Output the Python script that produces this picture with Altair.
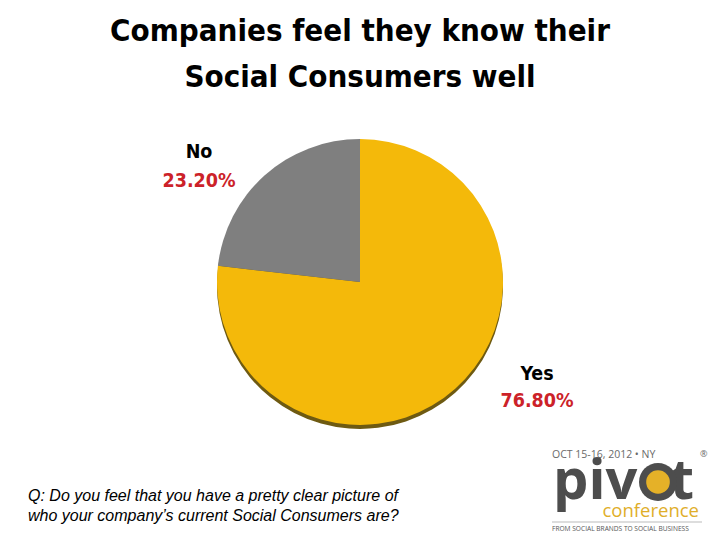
import altair as alt
import pandas as pd

# ---- data ----
categories = ["Yes", "No"]
values = [76.8, 23.2]
title_lines = ["Companies feel they know their", "Social Consumers well"]
question_lines = ["Q: Do you feel that you have a pretty clear picture of",
                  "who your company\u2019s current Social Consumers are?"]

df = pd.DataFrame({"answer": categories, "share": values, "rank": list(range(len(categories)))})

COND = "DejaVu Sans Condensed, Liberation Sans Narrow, sans-serif"
LOGO = "Open Sans, sans-serif"
GOLD = "#F4B90A"
GRAY = "#7F7F7F"
RED = "#CC2229"

W, H = 704, 532
CX, CY = 352, 274
R = 143

base = alt.Chart(df)

theta = alt.Theta("share:Q", stack=True)
order = alt.Order("rank:O")

shadow = base.mark_arc(radius=R, color="#6E5A12").encode(
    theta=theta, order=order, x=alt.value(CX), y=alt.value(CY + 4)
)
pie = base.mark_arc(radius=R).encode(
    theta=theta,
    order=order,
    color=alt.Color("answer:N", scale=alt.Scale(domain=categories, range=[GOLD, GRAY]), legend=None),
    x=alt.value(CX), y=alt.value(CY),
)

labeled = base.transform_calculate(pct="format(datum.share, '.2f') + '%'")


def label_text(cat, field, colour, x, y):
    return labeled.transform_filter(alt.datum.answer == cat).mark_text(
        font=COND, fontWeight="bold", fontSize=19.5, color=colour, align="center", baseline="alphabetic"
    ).encode(text=f"{field}:N", x=alt.value(x), y=alt.value(y))


labels = [
    label_text("No", "answer", "black", 191, 150), label_text("No", "pct", RED, 191, 179),
    label_text("Yes", "answer", "black", 529, 372), label_text("Yes", "pct", RED, 529, 399),
]

one = alt.Chart(pd.DataFrame({"k": [0]}))

title = one.mark_text(
    font=COND, fontWeight="bold", fontSize=31, color="black", align="center",
    baseline="alphabetic", lineBreak="\n", lineHeight=46
).encode(text=alt.value("\n".join(title_lines)), x=alt.value(352), y=alt.value(33))

question = one.mark_text(
    font="Liberation Sans, Arial, sans-serif", fontStyle="italic", fontSize=16, color="black",
    align="left", baseline="alphabetic", lineBreak="\n", lineHeight=20
).encode(text=alt.value("\n".join(question_lines)), x=alt.value(20), y=alt.value(493))

# logo
logo_date = one.mark_text(font=LOGO, fontSize=10.5, color="#6A6A6A", align="left",
                          baseline="alphabetic").encode(
    text=alt.value("OCT 15-16, 2012 \u2022 NY"), x=alt.value(544), y=alt.value(450))
logo_reg = one.mark_text(font=LOGO, fontSize=9, color="#6A6A6A", align="left",
                         baseline="alphabetic").encode(
    text=alt.value("\u00ae"), x=alt.value(692), y=alt.value(449))
logo_piv = one.mark_text(font=LOGO, fontWeight="bold", fontSize=56, color="#4D4D4D",
                         align="left", baseline="alphabetic").encode(
    text=alt.value("piv"), x=alt.value(545), y=alt.value(491))
logo_t = one.mark_text(font=LOGO, fontWeight="bold", fontSize=56, color="#4D4D4D",
                       align="right", baseline="alphabetic").encode(
    text=alt.value("t"), x=alt.value(686), y=alt.value(491))
logo_ring = one.mark_point(shape="circle", filled=True, size=1444, color="#4D4D4D", opacity=1).encode(
    x=alt.value(650), y=alt.value(474))
logo_dot = one.mark_point(shape="circle", filled=True, size=560, color="#E5B128", opacity=1).encode(
    x=alt.value(650), y=alt.value(474))
logo_conf = one.mark_text(font=LOGO, fontSize=18.5, color="#E0AE2A", align="right",
                          baseline="alphabetic").encode(
    text=alt.value("conference"), x=alt.value(691), y=alt.value(509))
logo_rule = one.mark_rule(color="#BBBBBB", strokeWidth=1).encode(
    x=alt.value(544), x2=alt.value(694), y=alt.value(514))
logo_tag = one.mark_text(font=LOGO, fontSize=6.6, color="#555555", align="left",
                         baseline="alphabetic").encode(
    text=alt.value("FROM SOCIAL BRANDS TO SOCIAL BUSINESS"), x=alt.value(544), y=alt.value(523))

chart = alt.layer(
    shadow, pie, *labels, title, question,
    logo_date, logo_reg, logo_piv, logo_t, logo_ring, logo_dot, logo_conf, logo_rule, logo_tag,
).properties(
    width=W, height=H, autosize=alt.AutoSizeParams(type="none"), padding=0, background="white"
).configure_view(stroke=None)

chart.save("out.html", embed_options={"renderer": "svg", "actions": False})
